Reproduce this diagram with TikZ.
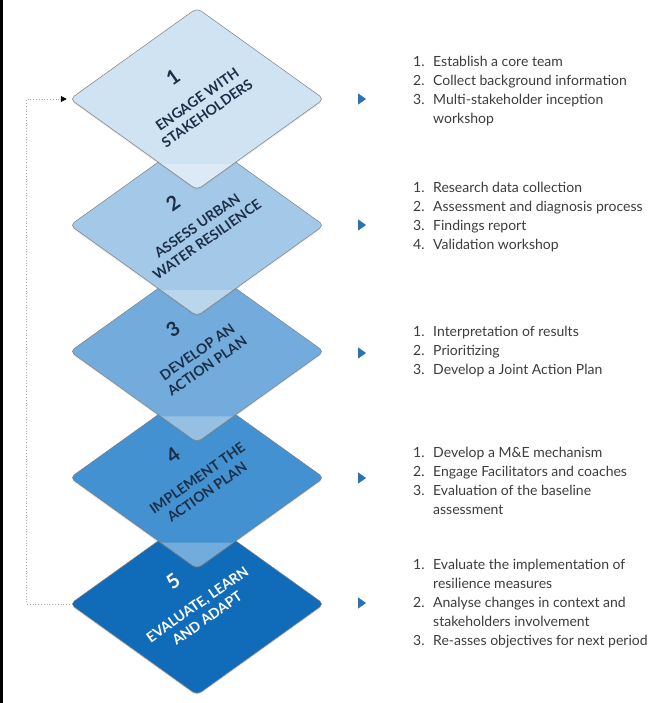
\documentclass[tikz,border=0pt]{standalone}
\usepackage{fontspec}
\setmainfont{Lato}
\usetikzlibrary{shapes.geometric,arrows.meta,calc,shadows}

\definecolor{sone}{HTML}{CFE3F3}
\definecolor{stwo}{HTML}{A4C9E8}
\definecolor{sthree}{HTML}{72ABDC}
\definecolor{sfour}{HTML}{4391D1}
\definecolor{sfive}{HTML}{106BB9}
\definecolor{ink}{HTML}{1D2F48}
\definecolor{copy}{HTML}{3C3C3C}
\definecolor{pointblue}{HTML}{2A72B2}

\tikzset{
  stage/.style={diamond, minimum width=254pt, minimum height=182pt, inner sep=0pt,
    rounded corners=5pt, draw=black!50, line width=0.5pt, fill=#1,
    drop shadow={shadow xshift=0pt, shadow yshift=-1.5pt, opacity=0.2}},
  % lighter fold at the lower tip
  fold/.style={path picture={\fill[white, opacity=0.25]
      ([yshift=26pt]path picture bounding box.south east)
      rectangle (path picture bounding box.south west);}},
  num/.style={rotate=35, inner sep=0pt, text=ink, font=\fontsize{20}{20}\selectfont\bfseries},
  lbl/.style={rotate=35, inner sep=0pt, align=center, text=ink,
    font=\fontsize{14}{17}\selectfont\bfseries},
  pointer/.style={isosceles triangle, isosceles triangle apex angle=70,
    inner sep=0pt, minimum height=8pt, fill=pointblue},
  items/.style={anchor=north west, inner sep=0pt, text=copy,
    font=\fontsize{14}{19}\selectfont},
  feedback/.style={dotted, line width=0.8pt, black!35,
    -{Triangle[length=6pt, width=6pt, black]}, shorten >=3pt}
}

\begin{document}
\begin{tikzpicture}[x=1pt, y=1pt]
  \useasboundingbox (0,0) rectangle (651,-703);
  \fill[black] (0,0) rectangle (3,-703);

  % the five steps, back to front
  \node[stage=sfive] (d5) at (197,-604) {};
  \node[stage=sfour, fold] (d4) at (197,-477.75) {};
  \node[stage=sthree, fold] (d3) at (197,-351.5) {};
  \node[stage=stwo, fold] (d2) at (197,-225.25) {};
  \node[stage=sone, fold] (d1) at (197,-99) {};

  \node[num] (n1) at ($(d1)+(125:32)+(35:-7)$) {1};
  \node[lbl] (l1) at ($(d1)+(125:-9)$) {ENGAGE WITH\\STAKEHOLDERS};
  \node[num] (n2) at ($(d2)+(125:32)+(35:-7)$) {2};
  \node[lbl] (l2) at ($(d2)+(125:-9)$) {ASSESS URBAN\\WATER RESILIENCE};
  \node[num] (n3) at ($(d3)+(125:32)+(35:-7)$) {3};
  \node[lbl] (l3) at ($(d3)+(125:-9)$) {DEVELOP AN\\ACTION PLAN};
  \node[num] (n4) at ($(d4)+(125:32)+(35:-7)$) {4};
  \node[lbl] (l4) at ($(d4)+(125:-9)$) {IMPLEMENT THE\\ACTION PLAN};
  \node[num, text=white] (n5) at ($(d5)+(125:32)+(35:-7)$) {5};
  \node[lbl, text=white] (l5) at ($(d5)+(125:-9)$) {EVALUATE, LEARN\\AND ADAPT};

  % back from the last step to the first
  \draw[feedback] (d5.west) -- ++(-43,0) |- (d1.west);

  % pointers and task lists
  \node[pointer] (p1) at (361,-99) {};
  \node[pointer] (p2) at (361,-225) {};
  \node[pointer] (p3) at (361,-353) {};
  \node[pointer] (p4) at (361,-478) {};
  \node[pointer] (p5) at (361,-603) {};

  \node[items] (t1) at (413,-53) {\begin{tabular}{@{}p{20pt}@{}l@{}}
    1. & Establish a core team\\
    2. & Collect background information\\
    3. & Multi-stakeholder inception\\
       & workshop
  \end{tabular}};
  \node[items] (t2) at (413,-179) {\begin{tabular}{@{}p{20pt}@{}l@{}}
    1. & Research data collection\\
    2. & Assessment and diagnosis process\\
    3. & Findings report\\
    4. & Validation workshop
  \end{tabular}};
  \node[items] (t3) at (413,-323) {\begin{tabular}{@{}p{20pt}@{}l@{}}
    1. & Interpretation of results\\
    2. & Prioritizing\\
    3. & Develop a Joint Action Plan
  \end{tabular}};
  \node[items] (t4) at (413,-444) {\begin{tabular}{@{}p{20pt}@{}l@{}}
    1. & Develop a M\&E mechanism\\
    2. & Engage Facilitators and coaches\\
    3. & Evaluation of the baseline\\
       & assessment
  \end{tabular}};
  \node[items] (t5) at (413,-556) {\begin{tabular}{@{}p{20pt}@{}l@{}}
    1. & Evaluate the implementation of\\
       & resilience measures\\
    2. & Analyse changes in context and\\
       & stakeholders involvement\\
    3. & Re-asses objectives for next period
  \end{tabular}};
\end{tikzpicture}
\end{document}
